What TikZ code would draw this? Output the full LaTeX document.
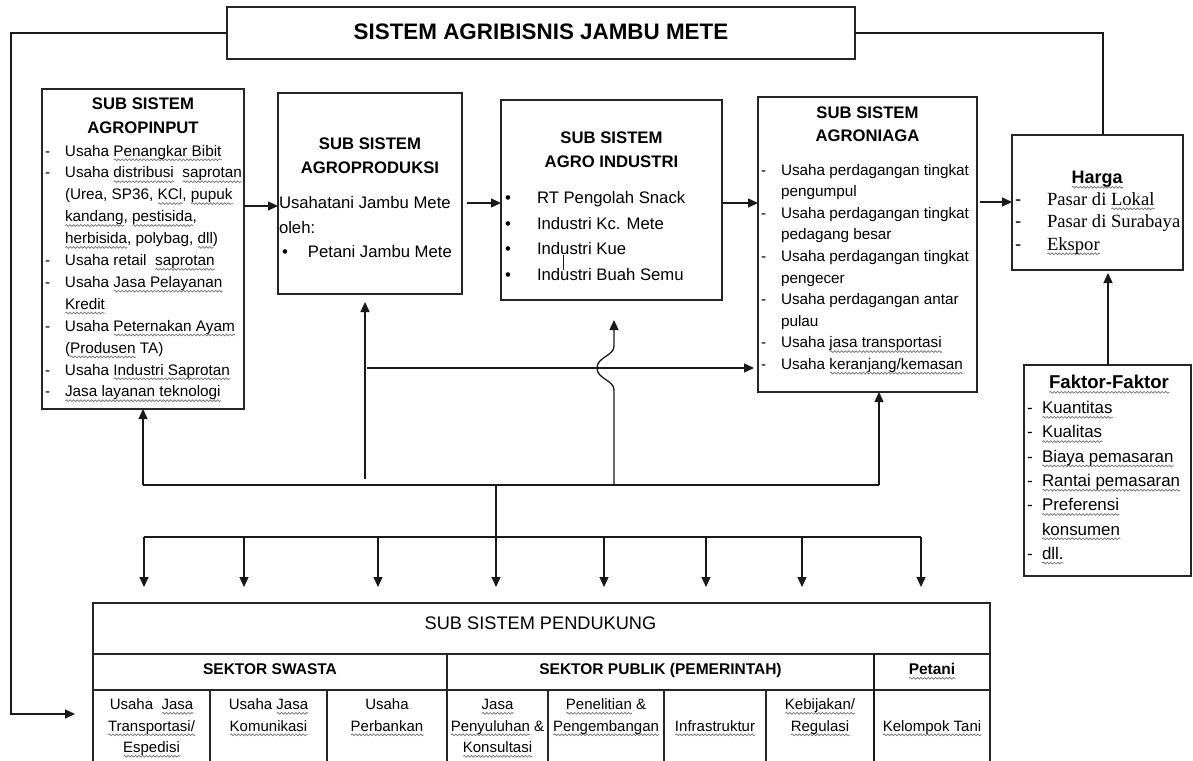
\documentclass[tikz,border=0pt]{standalone}
\usepackage{fontspec}
\setmainfont{Liberation Sans}
\newfontfamily\tnr{Liberation Serif}
\usetikzlibrary{arrows.meta,decorations.pathmorphing}
\newsavebox\wvbox
\newlength\wvlen
\newcommand\wv[1]{\sbox\wvbox{#1}\setlength\wvlen{\wd\wvbox}\rlap{\raisebox{-3.8pt}[0pt][0pt]{\tikz[x=1pt,y=1pt,baseline=0pt]\draw[black!55,line width=0.7pt,decorate,decoration={snake,amplitude=0.9pt,segment length=3.6pt}] (0,0) -- (\wvlen,0);}}\usebox\wvbox}
\newcommand\fs[2]{\fontsize{#1}{#2}\selectfont}
\begin{document}
\begin{tikzpicture}[x=1pt,y=-1pt,
  box/.style={draw=black!85, line width=1.3pt, inner sep=0pt, outer sep=0pt, anchor=north west},
  conn/.style={draw=black!90, line width=1.3pt},
  arr/.style={conn, -{Triangle[length=10pt,width=9pt]}},
  txt/.style={inner sep=0pt, outer sep=0pt, anchor=base},
  txtl/.style={inner sep=0pt, outer sep=0pt, anchor=base west},
]
\useasboundingbox[fill=white] (0,0) rectangle (1193,760);

% ---------- boxes ----------
\node[box, minimum width=628pt, minimum height=52pt] (tb) at (227,7) {};
\node[box, minimum width=202pt, minimum height=320pt] (pin) at (42,89) {};
\node[box, minimum width=184pt, minimum height=201pt] (prod) at (278,93) {};
\node[box, minimum width=221pt, minimum height=200pt] (ind) at (501,100) {};
\node[box, minimum width=219pt, minimum height=295pt] (niaga) at (758,97) {};
\node[box, line width=1.8pt, minimum width=171pt, minimum height=135pt] (harga) at (1012,135) {};
\node[box, line width=1.5pt, minimum width=167pt, minimum height=211pt] (faktor) at (1024,365) {};

% ---------- table ----------
\node[box, minimum width=897pt, minimum height=51pt] (tt) at (93,603) {};
\node[box, minimum width=354pt, minimum height=36pt] (s1) at (93,654) {};
\node[box, minimum width=427pt, minimum height=36pt] (s2) at (447,654) {};
\node[box, minimum width=116pt, minimum height=36pt] (s3) at (874,654) {};
\node[box, minimum width=117pt, minimum height=80pt] (c1) at (93,690) {};
\node[box, minimum width=117pt, minimum height=80pt] (c2) at (210,690) {};
\node[box, minimum width=120pt, minimum height=80pt] (c3) at (327,690) {};
\node[box, minimum width=101pt, minimum height=80pt] (c4) at (447,690) {};
\node[box, minimum width=116pt, minimum height=80pt] (c5) at (548,690) {};
\node[box, minimum width=102pt, minimum height=80pt] (c6) at (664,690) {};
\node[box, minimum width=108pt, minimum height=80pt] (c7) at (766,690) {};
\node[box, minimum width=116pt, minimum height=80pt] (c8) at (874,690) {};
\draw[black!90, line width=2.4pt] (s3.north west) -- (c8.south west);

% ---------- texts ----------
\node[txt] (tbt) at (541,40) {\bfseries\fs{22.4}{26}SISTEM AGRIBISNIS JAMBU METE};

\node[txt] (pint) at (143,109) {\bfseries\fs{16.7}{24}\begin{tabular}[t]{@{}c@{}}SUB SISTEM\\AGROPINPUT\end{tabular}};
\node[txtl] (pinl) at (45,156) {\fs{15.3}{21.9}\begin{tabular}[t]{@{}p{20pt}@{}l@{}}
- & Usaha \wv{Penangkar Bibit}\\
- & Usaha \wv{distribusi}\ \ \wv{saprotan}\\
  & (Urea, SP36, \wv{KCl}, \wv{pupuk}\\
  & \wv{kandang}, \wv{pestisida},\\
  & \wv{herbisida}, polybag, \wv{dll})\\
- & Usaha retail\ \ \wv{saprotan}\\
- & Usaha \wv{Jasa Pelayanan}\\
  & \wv{Kredit}\\
- & Usaha \wv{Peternakan Ayam}\\
  & (\wv{Produsen} TA)\\
- & Usaha \wv{Industri Saprotan}\\
- & \wv{Jasa layanan teknologi}
\end{tabular}};

\node[txt] (prodt) at (370,149) {\bfseries\fs{16.7}{24}\begin{tabular}[t]{@{}c@{}}SUB SISTEM\\AGROPRODUKSI\end{tabular}};
\node[txtl] (prodl) at (279,208.5) {\fs{16.7}{24.5}\begin{tabular}[t]{@{}p{29pt}@{}l@{}}
\multicolumn{2}{@{}l@{}}{Usahatani Jambu Mete}\\
\multicolumn{2}{@{}l@{}}{oleh:}\\
\hspace{3pt}\textbullet & Petani Jambu Mete
\end{tabular}};

\node[txt] (indt) at (611.5,143) {\bfseries\fs{16.7}{24}\begin{tabular}[t]{@{}c@{}}SUB SISTEM\\AGRO INDUSTRI\end{tabular}};
\node[txtl] (indl) at (505,203.5) {\fs{16.7}{25.6}\begin{tabular}[t]{@{}p{32pt}@{}l@{}}
\textbullet & RT Pengolah Snack\\
\textbullet & Industri Kc. Mete\\
\textbullet & Industri Kue\\
\textbullet & Industri Buah Semu
\end{tabular}};
\draw[conn, line width=0.9pt] (563,255) -- (563,270);

\node[txt] (niagat) at (867.5,118) {\bfseries\fs{16.7}{23.5}\begin{tabular}[t]{@{}c@{}}SUB SISTEM\\AGRONIAGA\end{tabular}};
\node[txtl] (niagal) at (761,175) {\fs{15.3}{21.6}\begin{tabular}[t]{@{}p{20pt}@{}l@{}}
- & Usaha perdagangan tingkat\\
  & pengumpul\\
- & Usaha perdagangan tingkat\\
  & pedagang besar\\
- & Usaha perdagangan tingkat\\
  & pengecer\\
- & Usaha perdagangan antar\\
  & pulau\\
- & Usaha \wv{jasa transportasi}\\
- & Usaha \wv{keranjang/kemasan}
\end{tabular}};

\node[txt] (hargat) at (1097,183.5) {\bfseries\fs{18}{22}\wv{Harga}};
\node[txtl] (hargal) at (1015,205) {\fs{18.6}{22.5}\begin{tabular}[t]{@{}p{32pt}@{}l@{}}
- & \tnr Pasar di \wv{Lokal}\\
- & \tnr Pasar di Surabaya\\
- & \tnr \wv{Ekspor}
\end{tabular}};

\node[txt] (faktort) at (1109,388.5) {\bfseries\fs{18.6}{22}\wv{Faktor-Faktor}};
\node[txtl] (faktorl) at (1027,413.5) {\fs{16.9}{24.3}\begin{tabular}[t]{@{}p{15pt}@{}l@{}}
- & \wv{Kuantitas}\\
- & \wv{Kualitas}\\
- & \wv{Biaya pemasaran}\\
- & \wv{Rantai pemasaran}\\
- & \wv{Preferensi}\\
  & \wv{konsumen}\\
- & \wv{dll.}
\end{tabular}};

\node[txt] (ttt) at (540.5,629) {\fs{18.2}{22}SUB SISTEM PENDUKUNG};
\node[txt] (s1t) at (270,674.5) {\bfseries\fs{15.5}{20}SEKTOR SWASTA};
\node[txt] (s2t) at (660.5,674.5) {\bfseries\fs{15.5}{20}SEKTOR PUBLIK (PEMERINTAH)};
\node[txt] (s3t) at (932,674.5) {\bfseries\fs{15.5}{20}\wv{Petani}};

\node[txt] (c1t) at (151.5,709.5) {\fs{15}{21.5}\begin{tabular}[t]{@{}c@{}}Usaha\ \ \wv{Jasa}\\\wv{Transportasi/}\\\wv{Espedisi}\end{tabular}};
\node[txt] (c2t) at (268.5,709.5) {\fs{15}{21.5}\begin{tabular}[t]{@{}c@{}}Usaha \wv{Jasa}\\\wv{Komunikasi}\end{tabular}};
\node[txt] (c3t) at (387,709.5) {\fs{15}{21.5}\begin{tabular}[t]{@{}c@{}}Usaha\\\wv{Perbankan}\end{tabular}};
\node[txt] (c4t) at (497.5,709.5) {\fs{15}{21.5}\begin{tabular}[t]{@{}c@{}}\wv{Jasa}\\\wv{Penyuluhan} \&\\\wv{Konsultasi}\end{tabular}};
\node[txt] (c5t) at (606,709.5) {\fs{15}{21.5}\begin{tabular}[t]{@{}c@{}}\wv{Penelitian} \&\\\wv{Pengembangan}\end{tabular}};
\node[txt] (c6t) at (715,731) {\fs{15}{21.5}\wv{Infrastruktur}};
\node[txt] (c7t) at (820,709.5) {\fs{15}{21.5}\begin{tabular}[t]{@{}c@{}}\wv{Kebijakan/}\\\wv{Regulasi}\end{tabular}};
\node[txt] (c8t) at (932,731) {\fs{15}{21.5}\wv{Kelompok Tani}};

% ---------- connectors ----------
\coordinate (r1) at (0,206);
\coordinate (r2) at (0,203);
\coordinate (r3) at (0,202);
\draw[arr] (pin.east |- r1) -- (prod.west |- r1);
\draw[arr, shorten <=5pt] (prod.east |- r2) -- (ind.west |- r2);
\draw[arr] (ind.east |- r2) -- (niaga.west |- r2);
\draw[arr, shorten <=3pt] (niaga.east |- r3) -- (harga.west |- r3);

% top connectors
\coordinate (la) at (11,714);
\draw[arr, shorten >=18pt] (tb.west) -| (la) -- (la -| tt.west);
\coordinate (rc) at (1103,135);
\draw[conn] (tb.east) -| (rc);
\coordinate (fh) at (1108,365);
\draw[arr, shorten >=3pt] (fh) -- (fh |- harga.south);

% upward connectors
\coordinate (bus1) at (0,485);
\coordinate (bus2) at (0,537);
\coordinate (u1) at (143,485);
\coordinate (u2) at (365,479);
\coordinate (u3) at (614,485);
\coordinate (u4) at (879,485);
\draw[conn] (u1) -- (u4);
\draw[arr] (u1) -- (u1 |- pin.south);
\draw[arr, shorten >=8pt] (u2) -- (u2 |- prod.south);
\draw[arr, shorten >=20pt] (u3) -- (614,390) .. controls (614,380) and (597,379) .. (597,368) .. controls (597,357) and (614,356) .. (614,346) -- (u3 |- ind.south);
\draw[arr] (u4) -- (u4 |- niaga.south);
\coordinate (h1) at (367,368);
\draw[arr, shorten >=4pt] (h1) -- (h1 -| niaga.west);

% downward connectors
\coordinate (c0) at (496,485);
\draw[conn] (c0) -- (c0 |- bus2);
\coordinate (bl) at (144,537);
\coordinate (br) at (921,537);
\draw[conn] (bl) -- (br);
\foreach \x in {144,244,378,496,604,706,802,921}{
  \coordinate (dx) at (\x,537);
  \draw[arr, shorten >=16pt] (dx) -- (dx |- tt.north);
}
\end{tikzpicture}
\end{document}
